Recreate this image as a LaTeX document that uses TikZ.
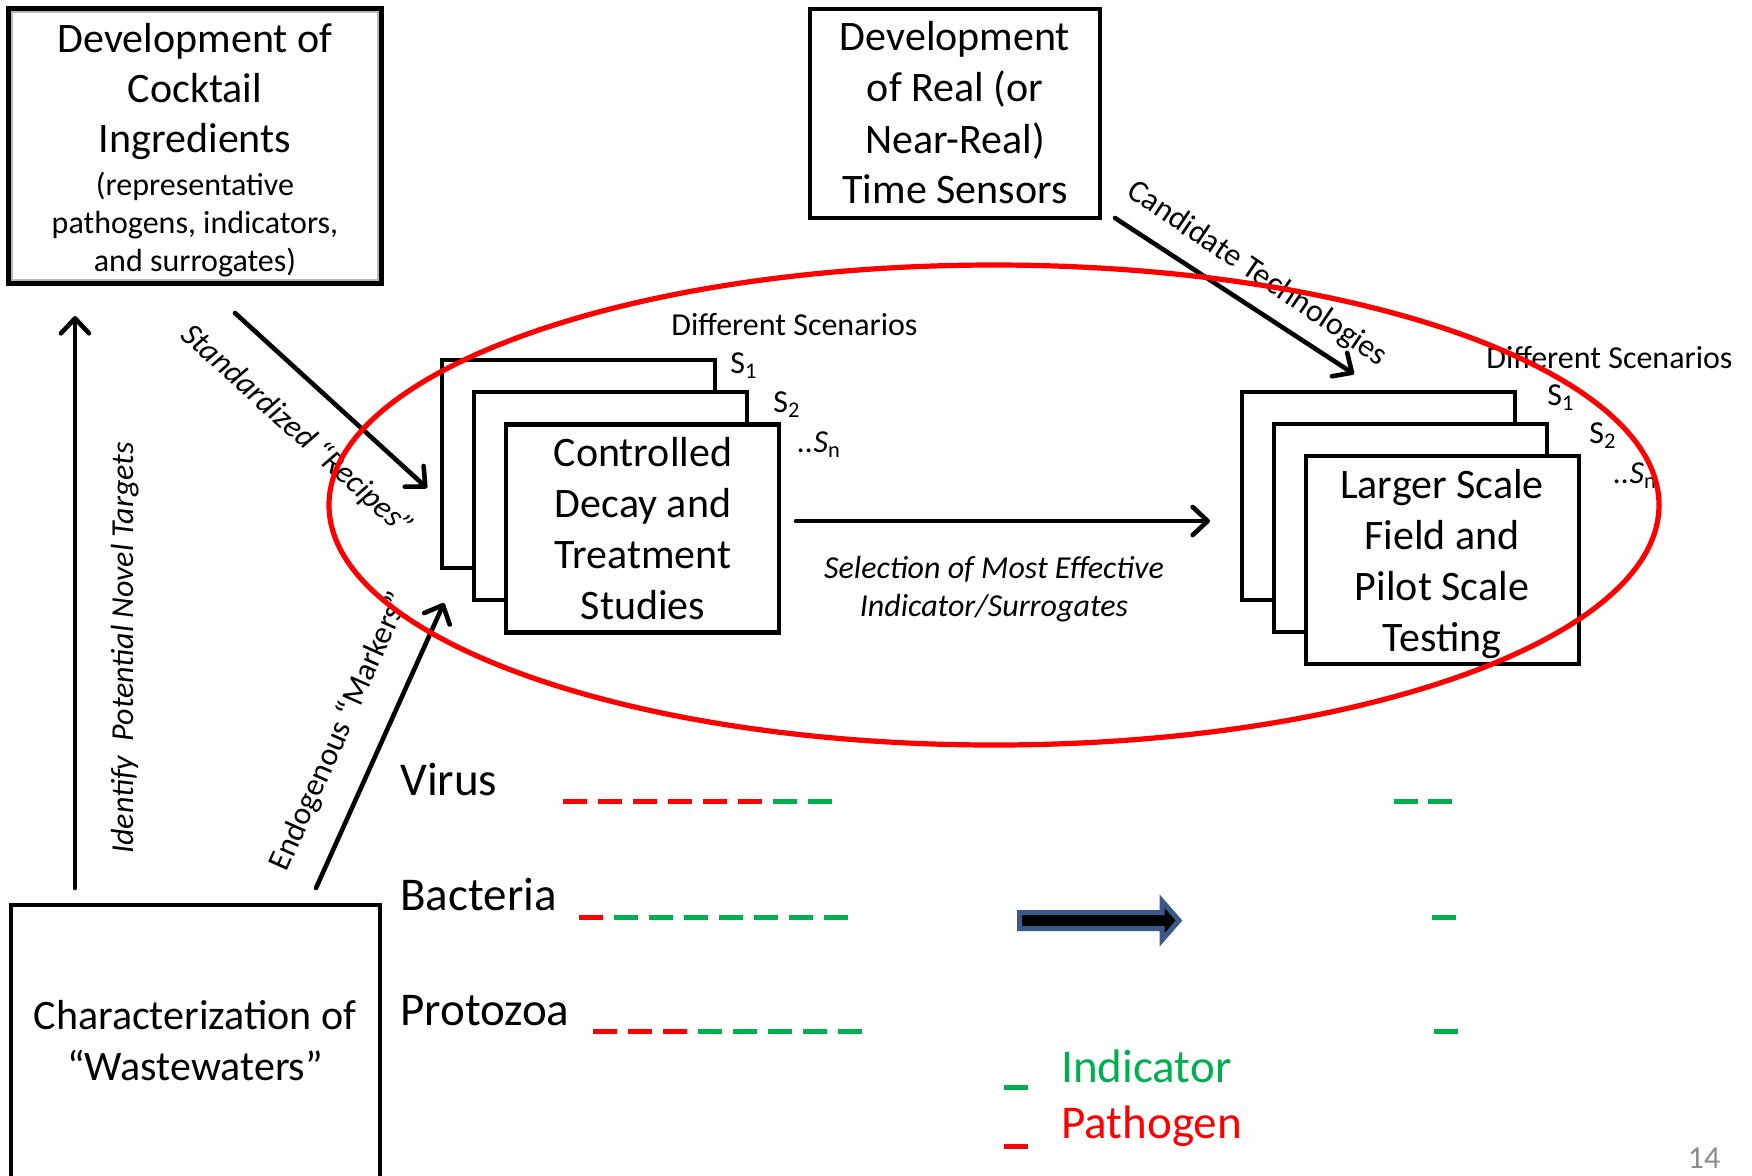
\documentclass[tikz,border=0pt]{standalone}
\usepackage{fontspec}
\setmainfont{Carlito}
\usetikzlibrary{arrows.meta}
\definecolor{pgreen}{RGB}{0,176,80}
\definecolor{pred}{RGB}{255,0,0}
\definecolor{arrowblue}{RGB}{59,90,135}
\definecolor{pagegray}{RGB}{140,140,140}
\begin{document}
\begin{tikzpicture}[x=0.5pt,y=-0.5pt,
  box/.style={draw,line width=2.4pt,fill=white,inner sep=0pt},
  txt/.style={anchor=base,inner sep=0pt},
  big/.style={txt,font=\fontsize{21}{25}\selectfont},
  sub/.style={txt,font=\fontsize{16}{19}\selectfont},
  lab/.style={inner sep=0pt,font=\fontsize{16}{19}\selectfont},
  labi/.style={inner sep=0pt,font=\fontsize{16}{19}\selectfont\itshape},
  org/.style={txt,anchor=base west,font=\fontsize{23.5}{28}\selectfont},
  arr/.style={line width=2.3pt,line cap=round,-{Straight Barb[length=7.5pt,width=14pt,line cap=round,line join=round]}},
  dsh/.style={line width=2.5pt}]
\path[use as bounding box,fill=white] (0,0) rectangle (1752,1175);

% ---- top-left box
\node[box,line width=2.6pt,minimum width=186pt,minimum height=137pt] (cocktail) at (195,146) {};
\draw[gray!55,line width=1pt] ([shift={(2.7pt,-2.7pt)}]cocktail.north west) rectangle ([shift={(-2.7pt,2.7pt)}]cocktail.south east);
\node[big] (tl1) at (195,52) {Development of};
\node[big] (tl2) at (195,102) {Cocktail};
\node[big] (tl3) at (195,152) {Ingredients};
\node[sub] (tl4) at (195,195) {(representative};
\node[sub] (tl5) at (195,233) {pathogens, indicators,};
\node[sub] (tl6) at (195,271) {and surrogates)};

% ---- top-middle box
\node[box,minimum width=145pt,minimum height=104.5pt] (sensors) at (955,113.5) {};
\node[big] (tm1) at (955,50) {Development};
\node[big] (tm2) at (955,101) {of Real (or};
\node[big] (tm3) at (955,153) {Near-Real)};
\node[big] (tm4) at (955,203) {Time Sensors};

% ---- left stack
\node[box,minimum width=136.5pt,minimum height=104pt] (c1) at (578.5,464) {};
\node[box,minimum width=136.5pt,minimum height=104pt] (c2) at (610.5,496) {};
\node[box,minimum width=136.5pt,minimum height=104pt] (c3) at (642.5,528.5) {};
\node[big] (ct1) at (643,466) {Controlled};
\node[big] (ct2) at (643,517) {Decay and};
\node[big] (ct3) at (643,568) {Treatment};
\node[big] (ct4) at (643,619) {Studies};

% ---- right stack
\node[box,minimum width=136.5pt,minimum height=104pt] (l1) at (1378.5,496) {};
\node[box,minimum width=136.5pt,minimum height=104pt] (l2) at (1410.5,528) {};
\node[box,minimum width=136.5pt,minimum height=104pt] (l3) at (1442.5,560) {};
\node[big] (lt1) at (1442,498) {Larger Scale};
\node[big] (lt2) at (1442,549) {Field and};
\node[big] (lt3) at (1442,600) {Pilot Scale};
\node[big] (lt4) at (1442,651) {Testing};

% ---- scenario labels
\node[lab,anchor=base west] (ds1) at (671,335) {Different Scenarios};
\node[lab,anchor=base west] (sa1) at (730,373) {S\textsubscript{1}};
\node[lab,anchor=base west] (sa2) at (773,412) {S\textsubscript{2}};
\node[lab,anchor=base west] (san) at (797,452) {\textit{..S}\textsubscript{n}};
\node[lab,anchor=base west] (ds2) at (1486,368) {Different Scenarios};
\node[lab,anchor=base west] (sb1) at (1547,405) {S\textsubscript{1}};
\node[lab,anchor=base west] (sb2) at (1589,443) {S\textsubscript{2}};
\node[lab,anchor=base west] (sbn) at (1613,483) {\textit{..S}\textsubscript{n}};

% ---- bottom-left box
\node[box,minimum width=184.5pt,minimum height=140pt] (waste) at (195.5,1045) {};
\node[big] (w1) at (195,1029) {Characterization of};
\node[big] (w2) at (195,1080) {“Wastewaters”};

% ---- arrows
\coordinate (ids) at (75,888); \coordinate (ide) at (75,316);
\draw[arr] (ids) -- (ide);
\node[labi,rotate=90] (idl) at (125,648) {Identify\ \ Potential Novel Targets};

\coordinate (sts) at (235,313); \coordinate (ste) at (427,488);
\draw[arr] (sts) -- (ste);
\node[labi,rotate=-42] (stl) at (297,431) {Standardized “Recipes”};

\coordinate (ens) at (316,888); \coordinate (ene) at (444,603);
\draw[arr] (ens) -- (ene);
\node[lab,rotate=66] (enl) at (340,732) {Endogenous “Markers”};

\coordinate (cas) at (1115,218); \coordinate (cae) at (1354,374);
\draw[arr] (cas) -- (cae);
\node[lab,rotate=-34] (cal) at (1257,274) {Candidate Technologies};

\coordinate (ses) at (796,521); \coordinate (see) at (1210,521);
\draw[arr] (ses) -- (see);
\node[labi,anchor=base] (sel1) at (994,578) {Selection of Most Effective};
\node[labi,anchor=base] (sel2) at (994,616) {Indicator/Surrogates};

% ---- organisms
\node[org] (virus) at (400,795) {Virus};
\node[org] (bact) at (400,910) {Bacteria};
\node[org] (proto) at (400,1025) {Protozoa};

\foreach \i in {0,...,5} \draw[dsh,pred] ({563+35*\i},801) -- ++(24,0);
\foreach \i in {6,7} \draw[dsh,pgreen] ({563+35*\i},801) -- ++(24,0);
\draw[dsh,pred] (579,917) -- ++(24,0);
\foreach \i in {1,...,7} \draw[dsh,pgreen] ({579+35*\i},917) -- ++(24,0);
\foreach \i in {0,...,2} \draw[dsh,pred] ({593+35*\i},1031) -- ++(24,0);
\foreach \i in {3,...,7} \draw[dsh,pgreen] ({593+35*\i},1031) -- ++(24,0);

\draw[dsh,pgreen] (1394,801) -- ++(24,0);
\draw[dsh,pgreen] (1428,801) -- ++(24,0);
\draw[dsh,pgreen] (1432,917) -- ++(24,0);
\draw[dsh,pgreen] (1434,1031) -- ++(24,0);

% ---- big block arrow
\draw[fill=black,draw=arrowblue,line width=2.5pt,line join=miter]
  (1019.5,912.5) -- (1162,912.5) -- (1162,901) -- (1179,920.5) -- (1162,940) -- (1162,928.5) -- (1019.5,928.5) -- cycle;

% ---- legend
\draw[dsh,pgreen] (1004,1087) -- ++(24,0);
\draw[dsh,pred] (1004,1146) -- ++(24,0);
\node[org,text=pgreen] (ind) at (1061,1082) {Indicator};
\node[org,text=pred] (pat) at (1061,1138) {Pathogen};

\node[font=\fontsize{16}{19}\selectfont,text=pagegray,inner sep=0pt] (pg) at (1704,1158) {14};

% ---- red ellipse
\draw[pred,line width=2.6pt] (994,505) ellipse [x radius=332.5pt,y radius=120pt];
\end{tikzpicture}
\end{document}
